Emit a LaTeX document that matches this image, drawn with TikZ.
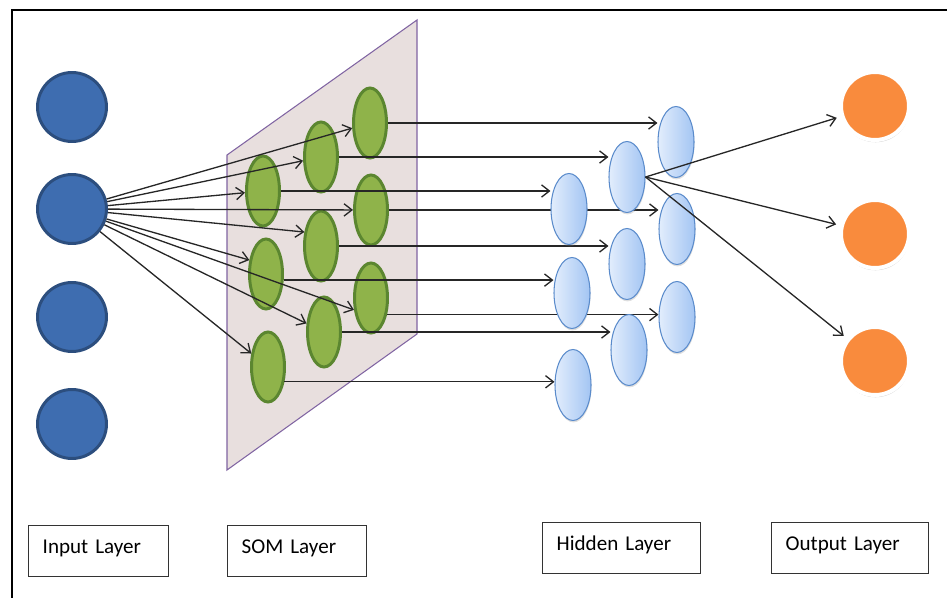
\documentclass[tikz,border=0pt]{standalone}
\usepackage{fontspec}
\setmainfont{Carlito}
\usetikzlibrary{arrows.meta,shapes.geometric,shadows}

\definecolor{infill}{HTML}{3E6DB0}
\definecolor{indraw}{HTML}{2C4E7E}
\definecolor{somfill}{HTML}{8FB34A}
\definecolor{somdraw}{HTML}{5B8630}
\definecolor{planefill}{HTML}{E8DFDE}
\definecolor{planedraw}{HTML}{8064A2}
\definecolor{hidleft}{HTML}{E2EDFC}
\definecolor{hidright}{HTML}{A3C5F3}
\definecolor{hiddraw}{HTML}{5A8BCB}
\definecolor{outfill}{HTML}{F98B3D}
\definecolor{arrcol}{HTML}{262626}
\definecolor{lblcol}{HTML}{333333}

\pgfdeclarelayer{fore}
\pgfsetlayers{main,fore}

\begin{document}
\begin{tikzpicture}[x=0.02cm,y=-0.02cm,
    innode/.style={circle,draw=indraw,fill=infill,line width=1.7pt,minimum size=1.38cm,inner sep=0pt},
    somnode/.style={ellipse,draw=somdraw,fill=somfill,line width=1.7pt,minimum width=0.66cm,minimum height=1.4cm,inner sep=0pt},
    hidnode/.style={ellipse,draw=hiddraw,left color=hidleft,right color=hidright,line width=0.6pt,minimum width=0.72cm,minimum height=1.42cm,inner sep=0pt,
        drop shadow={opacity=0.25,shadow xshift=0.3pt,shadow yshift=-1.1pt}},
    outnode/.style={circle,draw=white,fill=outfill,line width=2.27pt,minimum size=1.36cm,inner sep=0pt,
        drop shadow={opacity=0.35,shadow xshift=0.3pt,shadow yshift=-1.3pt}},
    arr/.style={draw=arrcol,line width=0.75pt,-{Straight Barb[length=4.5pt,width=7pt]}},
    lbl/.style={draw=lblcol,line width=0.8pt,minimum height=1.02cm,inner xsep=0.28cm,text height=9pt,text depth=6pt,align=left,anchor=north west,font=\fontsize{12}{14}\selectfont}]
    \useasboundingbox (0,0) rectangle (947,598);
    \draw[line width=1.7pt] (12,598) -- (12,10) -- (947,10);

    \draw[fill=planefill,draw=planedraw,line width=0.6pt] (227,155) -- (417,20) -- (417,334) -- (227,470) -- cycle;
    \foreach \n/\x/\y in {s11/263/191, s12/266/274, s13/268/367, s21/321/157, s22/321/246, s23/324/332, s31/370/123, s32/371/210, s33/371/298}
        \node[somnode] (\n) at (\x,\y) {};
    \foreach \n/\y in {in1/107, in2/209, in3/317, in4/424}
        \node[innode] (\n) at (72,\y) {};

    \begin{pgfonlayer}{fore}
        \foreach \n/\x/\y in {h11/569/209, h12/572/293, h13/573/385, h21/627/177, h22/627/264, h23/629/350, h31/676/142, h32/677/229, h33/677/317}
            \node[hidnode] (\n) at (\x,\y) {};
        \foreach \n/\y in {out1/106, out2/234, out3/361}
            \node[outnode] (\n) at (875,\y) {};
        \foreach \t in {out1,out2,out3}
            \draw[arr,shorten >=2.3pt] (h21.east) -- (\t);
    \end{pgfonlayer}

    \foreach \t in {s11,s21,s31,s32,s22.140,s12.140,s33.215,s23,s13}
        \draw[arr] (in2) -- (\t);
    \foreach \a/\b in {s31.east/h31, s21.east/h21, s11.east/h11, s32.east/h32, s22.east/h22, s12.-19/h12, s33.-46/h33, s23.east/h23, s13.-42/h13}
        \draw[arr] (\a) -- (\a -| \b.west);

    \node[lbl,text width=2.24cm] (inlbl) at (28,525) {Input Layer};
    \node[lbl,text width=2.22cm] (somlbl) at (227,525) {SOM Layer};
    \node[lbl,text width=2.6cm] (hidlbl) at (542,522) {Hidden Layer};
    \node[lbl,text width=2.58cm] (outlbl) at (771,522) {Output Layer};
\end{tikzpicture}
\end{document}
